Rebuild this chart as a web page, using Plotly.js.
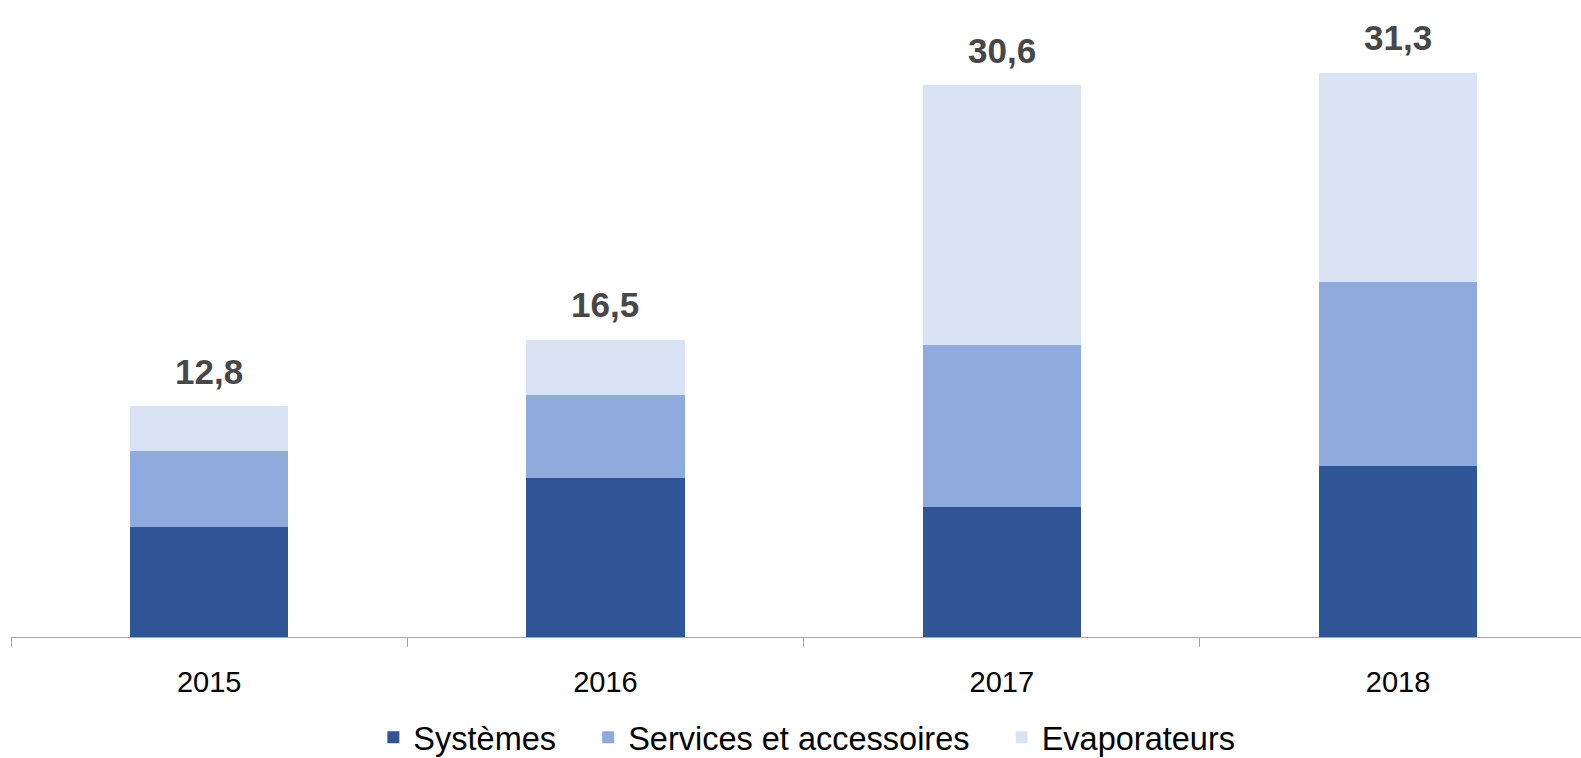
<!DOCTYPE html>
<html>
<head>
<meta charset="utf-8">
<script src="https://cdn.plot.ly/plotly-3.0.1.min.js"></script>
<style>
html,body{margin:0;padding:0;background:#fff;}
#chart{width:1581px;height:758px;}
</style>
</head>
<body>
<div id="chart"></div>
<script>
const years = ['2015', '2016', '2017', '2018'];
const systemes = [6.1, 8.8, 7.2, 9.5];
const services = [4.2, 4.6, 9.0, 10.2];
const evaporateurs = [2.5, 3.1, 14.4, 11.6];
const seriesNames = ['Systèmes', 'Services et accessoires', 'Evaporateurs'];
const seriesColors = ['#2F5597', '#8FAADC', '#DAE3F3'];

const totals = years.map((_, i) => systemes[i] + services[i] + evaporateurs[i]);
const totalLabels = totals.map(v => v.toFixed(1).replace('.', ','));

const FONT = 'Liberation Sans, Arial, sans-serif';
const legendIds = ['legend', 'legend2', 'legend3'];
const legendX = [0.2308, 0.3676, 0.6310];

const seriesValues = [systemes, services, evaporateurs];
const traces = seriesValues.map((vals, k) => ({
  type: 'bar',
  name: seriesNames[k],
  x: years,
  y: vals,
  width: 0.4,
  legend: legendIds[k],
  marker: {color: seriesColors[k], line: {width: 0}},
  hoverinfo: 'skip'
}));

// category axis: annotation x uses the category index
const annotations = years.map((yr, i) => ({
  x: i, y: totals[i], xref: 'x', yref: 'y',
  text: '<b>' + totalLabels[i] + '</b>',
  showarrow: false, yanchor: 'middle', yshift: 35,
  font: {family: FONT, size: 35, color: '#474747'}
}));

const layout = {
  width: 1581, height: 758,
  margin: {l: 11, r: 0, t: 0, b: 121, pad: 0, autoexpand: false},
  paper_bgcolor: '#ffffff', plot_bgcolor: '#ffffff',
  barmode: 'stack',
  showlegend: true,
  font: {family: FONT, color: '#000000'},
  xaxis: {
    type: 'category',
    range: [-0.5, 3.4616],
    showline: true, linecolor: '#a6a6a6', linewidth: 1,
    ticks: 'outside', tickson: 'boundaries', ticklen: 9, tickcolor: '#a6a6a6', tickwidth: 1,
    ticklabelstandoff: 19,
    tickfont: {family: FONT, size: 29, color: '#000000'},
    showgrid: false, zeroline: false, fixedrange: true, automargin: false
  },
  yaxis: {
    range: [0, 35.33],
    showticklabels: false, showline: false, ticks: '',
    showgrid: false, zeroline: false, fixedrange: true, automargin: false
  },
  annotations: annotations
};
legendIds.forEach((id, k) => {
  layout[id] = {
    orientation: 'h', x: legendX[k], xanchor: 'left', y: -0.158, yanchor: 'middle',
    font: {family: FONT, size: 32.5, color: '#000000'},
    bgcolor: 'rgba(0,0,0,0)'
  };
});

Plotly.newPlot('chart', traces, layout, {displayModeBar: false, staticPlot: true});
</script>
</body>
</html>
